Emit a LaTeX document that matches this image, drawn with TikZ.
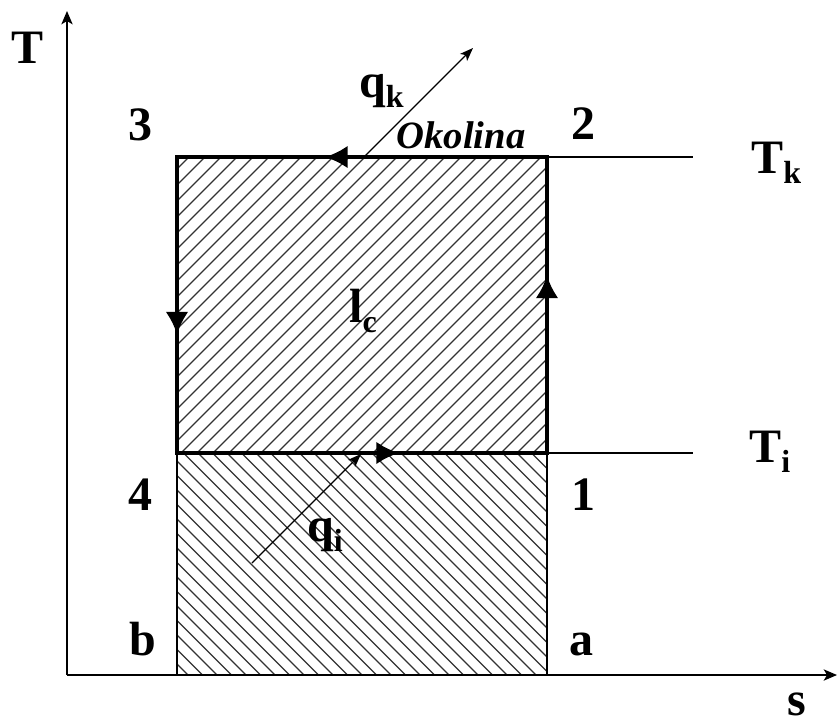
\documentclass[tikz,border=0pt]{standalone}
\usepackage{fontspec}
\setmainfont{Liberation Serif}
\usetikzlibrary{arrows.meta,decorations.markings}
\newcommand\subx[1]{\raisebox{-0.22em}{\fontsize{24}{26}\selectfont #1}}
\tikzset{
  lbl/.style={font=\fontsize{36}{38}\selectfont\bfseries, inner sep=0pt},
  hatchline/.style={line width=0.9pt, black!80},
  axisline/.style={line width=1.1pt, -{Stealth[length=10pt,width=8.5pt,inset=2.5pt]}},
  cycleline/.style={line width=2.6pt, line join=miter},
  thinbox/.style={line width=1.1pt},
  heatarrow/.style={line width=0.9pt, -{Stealth[length=10pt,width=7.5pt,inset=2.5pt]}},
  midarrow/.style={postaction={decorate}, decoration={markings,
     mark=at position 0.6 with {\arrow{Latex[length=17pt,width=17pt]}}}}
}
\begin{document}
\begin{tikzpicture}[x=0.75pt,y=-0.75pt]
\useasboundingbox (0,0) rectangle (839,726);
\coordinate (O) at (67,675);
\coordinate (Ttop) at (67,11);
\coordinate (Send) at (837,675);
\coordinate (P1) at (547,453);
\coordinate (P2) at (547,157);
\coordinate (P3) at (177,157);
\coordinate (P4) at (177,453);
\coordinate (Pa) at (547,675);
\coordinate (Pb) at (177,675);
\coordinate (Ek) at (693,157);
\coordinate (Ei) at (693,453);
\coordinate (QkS) at (365,156);
\coordinate (QkE) at (473,48);
\coordinate (QiS) at (252,563);
\coordinate (QiE) at (361,454);
% upper hatch
\begin{scope}
  \clip (P3) rectangle (P1);
  \foreach \i in {0,...,44}{
    \draw[hatchline] ({177-300+\i*16},453) -- ++(320,-320);
  }
\end{scope}
% lower hatch
\begin{scope}
  \clip (P4) rectangle (Pa);
  \foreach \i in {0,...,44}{
    \draw[hatchline] ({177-240+\i*14.5},453) -- ++(240,240);
  }
\end{scope}
\draw[thinbox] (P4) -- (Pb) -- (Pa) -- (P1);
\draw[thinbox] (P2) -- (Ek);
\draw[thinbox] (P1) -- (Ei);
% axes
\draw[axisline] (O) -- (Ttop);
\draw[axisline] (O) -- (Send);
% cycle
\draw[cycleline] (P1) -- (P2) -- (P3) -- (P4) -- cycle;
\draw[cycleline, midarrow] (P1) -- (P2);
\draw[cycleline, midarrow] (P2) -- (P3);
\draw[cycleline, midarrow] (P3) -- (P4);
\draw[cycleline, midarrow] (P4) -- (P1);
% heat arrows
\draw[heatarrow] (QkS) -- (QkE);
\draw[heatarrow] (QiS) -- (QiE);
% labels
\node[lbl, anchor=base] (lT) at (28,63) {T};
\node[lbl, anchor=base] (l3) at (140,140) {3};
\node[lbl, anchor=base] (l2) at (583,139) {2};
\node[lbl, anchor=base] (lok) at (461,148) {\fontsize{29}{31}\selectfont\bfseries\itshape Okolina};
\node[lbl, anchor=base west] (lqk) at (359,97) {q\subx{k}};
\node[lbl, anchor=base west] (lTk) at (751,173) {T\subx{k}};
\node[lbl, anchor=base west] (llc) at (349,322) {l\subx{c}};
\node[lbl, anchor=base west] (lTi) at (749,462) {T\subx{i}};
\node[lbl, anchor=base west] (lqi) at (307,541) {q\subx{i}};
\node[lbl, anchor=base] (l4) at (140,510) {4};
\node[lbl, anchor=base] (l1) at (583,510) {1};
\node[lbl, anchor=base] (lb) at (143,655) {b};
\node[lbl, anchor=base] (la) at (581,655) {a};
\node[lbl, anchor=base west] (ls) at (787,715) {s};
\end{tikzpicture}
\end{document}
